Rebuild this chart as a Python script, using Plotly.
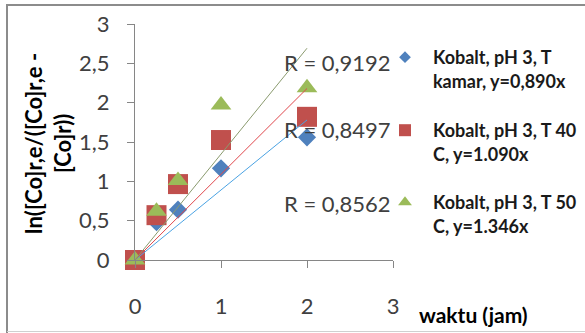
import plotly.graph_objects as go
import numpy as np

# ---- data ----
waktu = [0, 0.25, 0.5, 1, 2]
kamar = [0, 0.48, 0.64, 1.165, 1.56]
t40 = [0, 0.57, 0.965, 1.525, 1.82]
t50 = [0, 0.62, 1.01, 1.97, 2.19]

slopes = [0.890, 1.090, 1.346]
r_labels = ["R = 0,9192", "R = 0,8497", "R = 0,8562"]
series_names = [
    "Kobalt, pH 3, T<br>kamar, y=0,890x",
    "Kobalt, pH 3, T 40<br>C, y=1.090x",
    "Kobalt, pH 3, T 50<br>C, y=1.346x",
]
x_ticks = [0, 1, 2, 3]
x_ticktext = ["0", "1", "2", "3"]
y_ticks = [0, 0.5, 1, 1.5, 2, 2.5, 3]
y_ticktext = ["0", "0,5", "1", "1,5", "2", "2,5", "3"]

marker_colors = ["#4F81BD", "#C0504D", "#9BBB59"]
line_colors = ["#4BA3E3", "#E0474C", "#8A9A6E"]
symbols = ["diamond", "square", "triangle-up"]
sizes = [14, 20, 18]
legend_sizes = [9, 12, 12]
legend_ids = ["legend", "legend2", "legend3"]

FONT = "Lato"
fig = go.Figure()

ys = [kamar, t40, t50]
for i in range(3):
    fig.add_trace(go.Scatter(
        x=waktu, y=ys[i], mode="markers", showlegend=False,
        marker=dict(symbol=symbols[i], size=sizes[i], color=marker_colors[i],
                    line=dict(width=0)),
        cliponaxis=False, name=series_names[i]))

# trendlines (through origin)
xt = np.array([0, 2])
for i in range(3):
    fig.add_trace(go.Scatter(
        x=xt, y=slopes[i] * xt, mode="lines", showlegend=False,
        line=dict(color=line_colors[i], width=1), hoverinfo="skip"))

# legend entries
for i in range(3):
    fig.add_trace(go.Scatter(
        x=[None], y=[None], mode="markers", name=series_names[i],
        legend=legend_ids[i],
        marker=dict(symbol=symbols[i], size=legend_sizes[i], color=marker_colors[i])))

W, H = 585, 333
L, R, T, B = 135, 192, 24, 73
pw, ph = W - L - R, H - T - B

def px(xp):
    return (xp - L) / pw

def py(yp):
    return (H - B - yp) / ph

legend_y = [58, 131, 203]
legend_common = dict(
    font=dict(family=FONT, size=18, color="#1a1a1a", weight="bold"),
    bgcolor="rgba(0,0,0,0)", borderwidth=0, itemwidth=46, valign="top",
    xanchor="left", yanchor="top", tracegroupgap=0, itemsizing="trace")
layout_legends = {}
for i, lid in enumerate(legend_ids):
    layout_legends[lid] = dict(legend_common, x=px(405 - 28), y=py(legend_y[i] - 19))

annotations = []
r_y = [62, 129, 203]
for i in range(3):
    annotations.append(dict(
        text=r_labels[i], x=px(393), y=py(r_y[i]), xref="paper", yref="paper",
        xanchor="right", yanchor="middle", showarrow=False,
        font=dict(family=FONT, size=22, color="#404040")))

annotations.append(dict(
    text="ln([Co]r,e/([Co]r,e -<br>[Co]r))", x=px(48), y=py(144),
    xref="paper", yref="paper", xanchor="center", yanchor="middle",
    textangle=-90, showarrow=False,
    font=dict(family=FONT, size=22, color="#000000", weight="bold")))
annotations.append(dict(
    text="waktu (jam)", x=px(473), y=py(314),
    xref="paper", yref="paper", xanchor="center", yanchor="middle",
    showarrow=False,
    font=dict(family=FONT, size=21, color="#000000", weight="bold")))

shapes = [
    dict(type="line", xref="paper", yref="paper", x0=px(6), x1=px(590),
         y0=py(5), y1=py(5), line=dict(color="#8c8c8c", width=2)),
    dict(type="line", xref="paper", yref="paper", x0=px(7), x1=px(7),
         y0=py(5), y1=py(340), line=dict(color="#8c8c8c", width=2)),
    dict(type="line", xref="paper", yref="paper", x0=px(7), x1=px(590),
         y0=py(331.5), y1=py(331.5), line=dict(color="#d0d0d0", width=1)),
]

axis_common = dict(
    showgrid=False, zeroline=False, showline=True, linecolor="#868686",
    linewidth=1, ticks="outside", ticklen=7, tickcolor="#868686",
    tickfont=dict(family=FONT, size=22, color="#404040"), fixedrange=True,
    automargin=False)

fig.update_layout(
    width=W, height=H,
    margin=dict(l=L, r=R, t=T, b=B, pad=0, autoexpand=False),
    paper_bgcolor="white", plot_bgcolor="white",
    xaxis=dict(axis_common, range=[0, 3], tickvals=x_ticks, ticktext=x_ticktext,
               ticklabelstandoff=20),
    yaxis=dict(axis_common, range=[0, 3], tickvals=y_ticks, ticktext=y_ticktext,
               ticklabelstandoff=13),
    annotations=annotations, shapes=shapes,
    **layout_legends,
)

fig.write_html("out.html")
